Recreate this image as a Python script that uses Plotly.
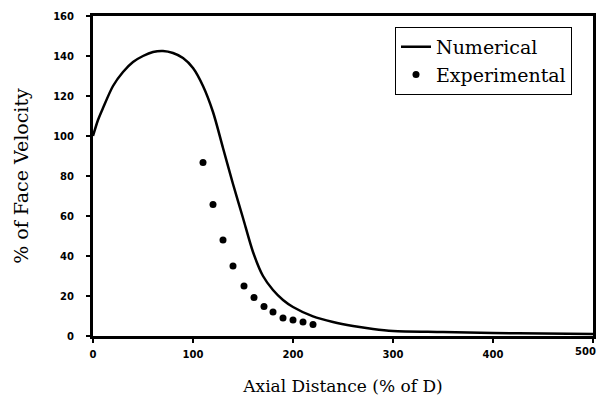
import plotly.graph_objects as go

# Numerical curve
num_x = [0, 5, 10, 20, 30, 40, 50, 60, 70, 80, 90, 100, 110, 120, 130, 140, 150, 160,
         170, 180, 190, 200, 220, 240, 260, 280, 300, 350, 400, 450, 500]
num_y = [100, 108, 114, 125, 132, 137, 140, 142, 142.5, 141.5, 139, 134, 125, 112, 94, 76,
         59, 42, 30, 23, 18, 14.5, 9.8, 7, 5, 3.5, 2.5, 2, 1.5, 1.2, 1]

# Experimental points
exp_x = [110, 120, 130, 140, 151, 161, 171, 180, 190, 200, 210, 220]
exp_y = [86.7, 65.8, 48, 35, 25, 19.3, 14.7, 12, 9, 8, 7, 5.8]

x_ticks = [0, 100, 200, 300, 400, 500]
y_ticks = [0, 20, 40, 60, 80, 100, 120, 140, 160]

serif = "DejaVu Serif"
tickfont = dict(family="DejaVu Sans", size=10, color="black", weight="bold")

fig = go.Figure()
fig.add_trace(go.Scatter(x=num_x, y=num_y, mode="lines", name="Numerical",
                         line=dict(color="black", width=2.5, shape="spline", smoothing=0.8)))
fig.add_trace(go.Scatter(x=exp_x, y=exp_y, mode="markers", name="Experimental",
                         marker=dict(color="black", size=7)))

axis_common = dict(showline=True, linecolor="black", linewidth=3, mirror=True,
                   showgrid=False, zeroline=False, ticks="outside", ticklen=4,
                   tickwidth=2, tickcolor="black", automargin=False, tickfont=tickfont)

fig.update_layout(
    width=599, height=412,
    margin=dict(l=93, r=6, t=16, b=76, autoexpand=False),
    paper_bgcolor="white", plot_bgcolor="white",
    xaxis=dict(range=[0, 500], tickvals=x_ticks, ticktext=[str(v) for v in x_ticks[:-1]] + [""],
               ticklabelstandoff=3,
               title=dict(text="Axial Distance (% of D)", standoff=22,
                          font=dict(family=serif, size=17, color="black")),
               **axis_common),
    yaxis=dict(range=[0, 160], tickvals=y_ticks, ticklabelstandoff=10,
               title=dict(text="% of Face Velocity", standoff=20,
                          font=dict(family=serif, size=19, color="black")),
               **axis_common),
    legend=dict(x=0.604, y=0.966, xanchor="left", yanchor="top",
                bordercolor="black", borderwidth=1, bgcolor="white",
                font=dict(family=serif, size=19, color="black"),
                itemwidth=30, tracegroupgap=0),
    showlegend=True,
)

# last x tick label (500) sits at the page edge; keep it fully inside the page
fig.add_annotation(x=x_ticks[-1], xref="x", y=0, yref="paper", yanchor="top",
                   xanchor="right", xshift=5, yshift=-8, text=str(x_ticks[-1]),
                   showarrow=False, font=tickfont)

fig.write_html("out.html", config={"displayModeBar": False},
               post_script="document.body.style.margin='0';document.body.style.overflow='hidden';")
